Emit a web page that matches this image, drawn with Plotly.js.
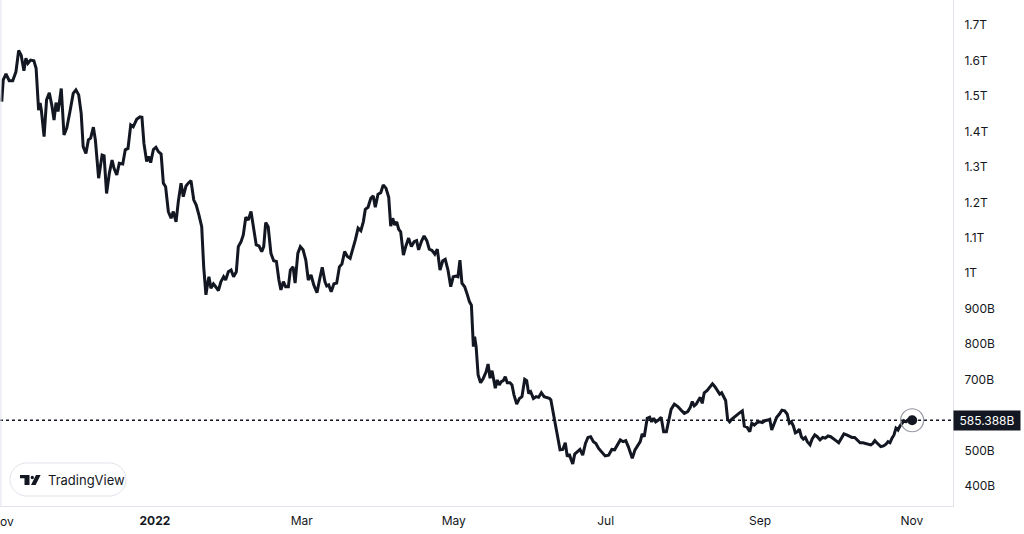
<!DOCTYPE html>
<html>
<head>
<meta charset="utf-8">
<script src="https://cdn.plot.ly/plotly-3.0.1.min.js"></script>
<style>
  html, body { margin: 0; padding: 0; background: #fff; }
  #plot { width: 1024px; height: 534px; }
</style>
</head>
<body>
<div id="plot"></div>
<script>
// days since 2021-11-01
const dayOffset = [
  -0.5, 0.1, 1.2, 2.5, 3.9, 5.2, 6.3, 7.3, 8.4, 9.2, 10.0, 11.1, 12.4, 13.3, 14.3, 14.9, 15.4, 16.5, 17.5, 18.6,
  19.6, 20.5, 21.3, 22.1, 22.6, 23.4, 24.5, 25.6, 26.9, 28.2, 29.3, 30.4, 31.4, 32.2, 33.3, 34.3, 35.2, 36.3, 37.1, 38.4,
  39.8, 40.6, 41.6, 42.7, 43.8, 44.6, 45.7, 46.7, 48.1, 49.1, 50.2, 51.3, 52.3, 53.7, 55.0, 55.8, 56.6, 57.7, 58.5, 59.3,
  60.4, 61.4, 62.4, 63.5, 64.4, 65.3, 66.4, 67.5, 68.4, 69.5, 70.4, 71.5, 72.4, 73.5, 74.4, 75.5, 76.6, 77.6, 78.7, 79.8,
  80.6, 81.5, 82.2, 82.7, 83.5, 84.5, 85.4, 86.5, 87.5, 88.6, 89.4, 90.5, 91.6, 92.6, 93.7, 94.5, 95.6, 96.5, 97.5, 98.5,
  99.6, 100.7, 101.7, 102.8, 103.9, 104.7, 105.5, 106.5, 107.6, 108.7, 109.8, 110.8, 111.6, 112.6, 113.5, 114.6, 115.4, 116.5, 117.3, 118.4,
  119.4, 120.5, 121.6, 122.6, 123.7, 124.8, 126.1, 127.1, 128.2, 129.3, 130.0, 130.8, 131.8, 132.9, 134.0, 135.1, 136.1, 137.2, 138.3, 139.4,
  140.4, 141.5, 142.6, 143.7, 144.7, 145.5, 146.6, 147.7, 148.7, 149.5, 150.6, 151.7, 152.7, 153.8, 154.9, 155.7, 156.5, 157.3, 158.1, 158.9,
  159.7, 160.8, 161.8, 162.9, 164.0, 165.1, 166.1, 166.9, 168.0, 169.1, 170.2, 171.2, 172.3, 173.4, 174.4, 175.5, 176.6, 177.6, 178.7, 179.8,
  180.8, 181.9, 182.7, 183.5, 184.3, 185.4, 186.5, 187.3, 188.1, 188.9, 189.4, 190.0, 190.8, 191.8, 192.9, 194.0, 194.8, 195.6, 196.4, 197.2,
  197.7, 198.5, 199.3, 200.1, 200.9, 201.7, 202.5, 203.6, 204.4, 205.2, 206.3, 207.4, 208.4, 209.5, 210.3, 211.1, 211.9, 213.0, 214.1, 215.1,
  216.2, 217.3, 218.4, 219.4, 220.0, 220.8, 221.6, 222.6, 223.7, 224.8, 225.8, 226.6, 227.4, 228.2, 228.8, 229.6, 230.6, 231.7, 232.8, 233.9,
  234.9, 236.0, 237.1, 238.1, 239.2, 240.5, 241.8, 243.2, 244.5, 245.6, 246.9, 247.9, 249.0, 250.1, 251.1, 251.9, 252.7, 253.8, 254.9, 255.9,
  256.7, 257.5, 258.7, 259.7, 260.5, 261.3, 262.1, 263.2, 264.3, 265.3, 266.4, 267.2, 268.3, 269.6, 271.0, 272.3, 273.6, 275.0, 276.0, 276.8,
  277.6, 278.4, 279.2, 280.0, 280.8, 281.6, 282.7, 283.8, 284.9, 285.9, 287.0, 287.8, 288.6, 289.4, 290.2, 291.0, 291.8, 292.6, 293.7, 294.8,
  295.9, 296.9, 297.7, 298.8, 299.9, 300.7, 301.7, 302.8, 303.9, 304.9, 306.0, 307.1, 307.9, 308.7, 309.5, 310.7, 311.8, 312.8, 313.9, 314.9,
  315.8, 316.6, 317.4, 318.2, 319.0, 319.8, 320.6, 321.4, 322.2, 323.0, 324.1, 324.9, 326.0, 327.0, 328.1, 329.2, 330.2, 331.3, 332.4, 333.5,
  334.5, 335.6, 336.6, 337.7, 338.8, 339.8, 340.9, 342.0, 343.1, 344.2, 345.3, 346.3, 347.4, 348.5, 349.3, 350.1, 350.9, 351.7, 352.5, 353.6,
  354.6, 355.4, 356.2, 357.0, 357.8, 358.6, 359.4, 360.2, 361.0, 361.8, 362.6, 363.4, 364.2, 365.1
];

// market cap, billions USD
const capB = [
  1484, 1545, 1562, 1543, 1543, 1568, 1628, 1615, 1571, 1606, 1592, 1601, 1599, 1578, 1460, 1480, 1460, 1385, 1489, 1509,
  1474, 1432, 1481, 1456, 1479, 1521, 1390, 1409, 1456, 1507, 1517, 1503, 1451, 1357, 1338, 1376, 1381, 1412, 1376, 1268,
  1333, 1331, 1225, 1282, 1319, 1296, 1277, 1310, 1308, 1348, 1352, 1418, 1413, 1434, 1441, 1440, 1366, 1315, 1329, 1312,
  1349, 1355, 1343, 1336, 1254, 1244, 1174, 1155, 1174, 1145, 1202, 1254, 1216, 1246, 1254, 1261, 1207, 1192, 1164, 1131,
  1018, 939, 972, 990, 958, 970, 962, 951, 976, 990, 981, 1004, 1009, 990, 1004, 1075, 1089, 1108, 1158, 1150,
  1174, 1130, 1080, 1077, 1061, 1075, 1143, 1131, 1056, 1035, 1033, 981, 953, 976, 962, 962, 1009, 1018, 972, 1056,
  1075, 1066, 1037, 981, 995, 967, 945, 981, 1017, 976, 964, 967, 948, 970, 972, 1018, 1026, 1061, 1047, 1042,
  1066, 1094, 1127, 1120, 1145, 1180, 1186, 1211, 1218, 1186, 1223, 1227, 1249, 1240, 1214, 1133, 1155, 1136, 1145, 1124,
  1117, 1051, 1077, 1099, 1075, 1089, 1092, 1066, 1089, 1105, 1092, 1068, 1064, 1054, 1068, 1009, 1035, 1039, 1009, 962,
  990, 992, 990, 1037, 972, 962, 939, 920, 910, 793, 821, 793, 713, 691, 704, 722, 744, 704, 725, 699,
  676, 699, 685, 694, 697, 708, 691, 691, 685, 657, 631, 647, 652, 701, 697, 661, 666, 647, 652, 650,
  663, 652, 650, 647, 643, 614, 586, 553, 502, 503, 522, 483, 490, 473, 462, 490, 497, 503, 487, 520,
  537, 539, 525, 520, 506, 494, 485, 487, 503, 502, 516, 530, 525, 528, 511, 492, 478, 502, 516, 525,
  547, 539, 591, 594, 581, 591, 581, 586, 594, 553, 553, 581, 616, 631, 624, 614, 605, 610, 622, 638,
  626, 631, 641, 650, 633, 663, 669, 678, 688, 680, 669, 659, 663, 650, 641, 588, 581, 588, 595, 600,
  607, 612, 569, 566, 553, 577, 572, 579, 581, 579, 584, 586, 588, 558, 575, 594, 603, 614, 612, 603,
  577, 581, 569, 550, 553, 560, 539, 532, 537, 525, 516, 532, 544, 539, 530, 537, 535, 541, 539, 532,
  528, 522, 535, 547, 544, 541, 537, 537, 528, 522, 522, 520, 518, 516, 520, 528, 522, 516, 511, 513,
  518, 525, 522, 535, 544, 563, 558, 569, 577, 584, 581, 586, 588, 585.388
];

const lastPrice = 585.388;
const lastLabel = '585.388B';

const tickDates = ['2021-11-01', '2022-01-01', '2022-03-01', '2022-05-01', '2022-07-01', '2022-09-01', '2022-11-01'];
const tickLabels = ['Nov', '<b>2022</b>', 'Mar', 'May', 'Jul', 'Sep', 'Nov'];

const yTickVals = [400, 500, 700, 800, 900, 1000, 1100, 1200, 1300, 1400, 1500, 1600, 1700];
const yTickLabels = ['400B', '500B', '700B', '800B', '900B', '1T', '1.1T', '1.2T', '1.3T', '1.4T', '1.5T', '1.6T', '1.7T'];

// 日付に変換
const base = Date.UTC(2021, 10, 1);
function toDate(d) {
  return new Date(base + d * 86400000).toISOString().slice(0, 19).replace('T', ' ');
}
const dates = dayOffset.map(toDate);

const ink = '#131722';
const border = '#e0e3eb';

// plot area in pixels (for the badge drawn in paper coords)
const PW = 953, PH = 506;
const px = x => x / PW;
const py = y => (PH - y) / PH;
const P = (x, y) => px(x) + ',' + py(y);

function pill(x0, y0, x1, y1) {
  const r = (y1 - y0) / 2, k = 0.5523 * r, ym = (y0 + y1) / 2;
  return 'M' + P(x0 + r, y0) + ' L' + P(x1 - r, y0) +
    ' C' + P(x1 - r + k, y0) + ' ' + P(x1, ym - k) + ' ' + P(x1, ym) +
    ' C' + P(x1, ym + k) + ' ' + P(x1 - r + k, y1) + ' ' + P(x1 - r, y1) +
    ' L' + P(x0 + r, y1) +
    ' C' + P(x0 + r - k, y1) + ' ' + P(x0, ym + k) + ' ' + P(x0, ym) +
    ' C' + P(x0, ym - k) + ' ' + P(x0 + r - k, y0) + ' ' + P(x0 + r, y0) + ' Z';
}

const lastX = dates[dates.length - 1];
const lastY = capB[capB.length - 1];

const traces = [
  {
    x: dates, y: capB, type: 'scatter', mode: 'lines',
    line: { color: ink, width: 3 }
  },
  {
    x: [lastX], y: [lastY], type: 'scatter', mode: 'markers',
    marker: { symbol: 'circle-open', size: 23, color: '#9598a1', line: { color: '#9598a1', width: 1.2 } }
  },
  {
    x: [lastX], y: [lastY], type: 'scatter', mode: 'markers',
    marker: { size: 10, color: ink }
  }
];

const layout = {
  width: 1024, height: 534,
  margin: { l: 0, r: 71, t: 0, b: 28 },
  paper_bgcolor: '#fff', plot_bgcolor: '#fff',
  showlegend: false, hovermode: false,
  font: { family: 'Inter, Roboto, sans-serif', size: 12, color: ink },
  xaxis: {
    type: 'date',
    range: [toDate(-1.2), toDate(381.5)],
    tickmode: 'array', tickvals: tickDates, ticktext: tickLabels,
    showgrid: false, zeroline: false, showline: true, linecolor: border, linewidth: 1,
    ticks: '', ticklabelstandoff: 4, tickfont: { size: 12, color: ink }
  },
  yaxis: {
    side: 'right',
    range: [343.6, 1770.5],
    tickmode: 'array', tickvals: yTickVals, ticktext: yTickLabels,
    showgrid: false, zeroline: false, showline: true, linecolor: border, linewidth: 1,
    ticks: '', ticklabelstandoff: 8, tickfont: { size: 12, color: ink }
  },
  shapes: [
    { type: 'line', xref: 'paper', yref: 'y', x0: 0, x1: 1, y0: lastPrice, y1: lastPrice,
      line: { color: ink, width: 1.3, dash: 'dot' }, layer: 'below' },
    { type: 'line', xref: 'paper', yref: 'paper', x0: 0.001, x1: 0.001, y0: 0, y1: 1,
      line: { color: border, width: 1 } },
    // TradingView badge
    { type: 'path', xref: 'paper', yref: 'paper', path: pill(10, 463, 126, 496),
      fillcolor: '#fff', line: { color: border, width: 1 } },
    { type: 'path', xref: 'paper', yref: 'paper',
      path: 'M' + P(20, 475) + ' L' + P(29.5, 475) + ' L' + P(29.5, 485) + ' L' + P(24.5, 485) +
            ' L' + P(24.5, 478.2) + ' L' + P(20, 478.2) + ' Z',
      fillcolor: ink, line: { width: 0 } },
    { type: 'circle', xref: 'paper', yref: 'paper',
      x0: px(30.6), x1: px(34), y0: py(479.2), y1: py(475.8),
      fillcolor: ink, line: { width: 0 } },
    { type: 'path', xref: 'paper', yref: 'paper',
      path: 'M' + P(31, 485) + ' L' + P(35.6, 485) + ' L' + P(40.6, 475) + ' L' + P(36, 475) + ' Z',
      fillcolor: ink, line: { width: 0 } }
  ],
  annotations: [
    { xref: 'paper', yref: 'y', x: 1, y: lastPrice, xanchor: 'left', yanchor: 'middle',
      text: lastLabel, showarrow: false, bgcolor: ink, width: 62, height: 15, borderpad: 2,
      font: { color: '#fff', size: 12 } },
    { xref: 'paper', yref: 'paper', x: px(46), y: py(480), xanchor: 'left', yanchor: 'middle',
      text: 'TradingView', showarrow: false, font: { color: ink, size: 13 } },
    // first month label, cut by the left edge as in the original
    { xref: 'x', yref: 'paper', x: tickDates[0], y: py(521), xanchor: 'center', yanchor: 'middle',
      text: tickLabels[0], showarrow: false, font: { color: ink, size: 12 } }
  ]
};

Plotly.newPlot('plot', traces, layout, { displayModeBar: false, staticPlot: true });
</script>
</body>
</html>
